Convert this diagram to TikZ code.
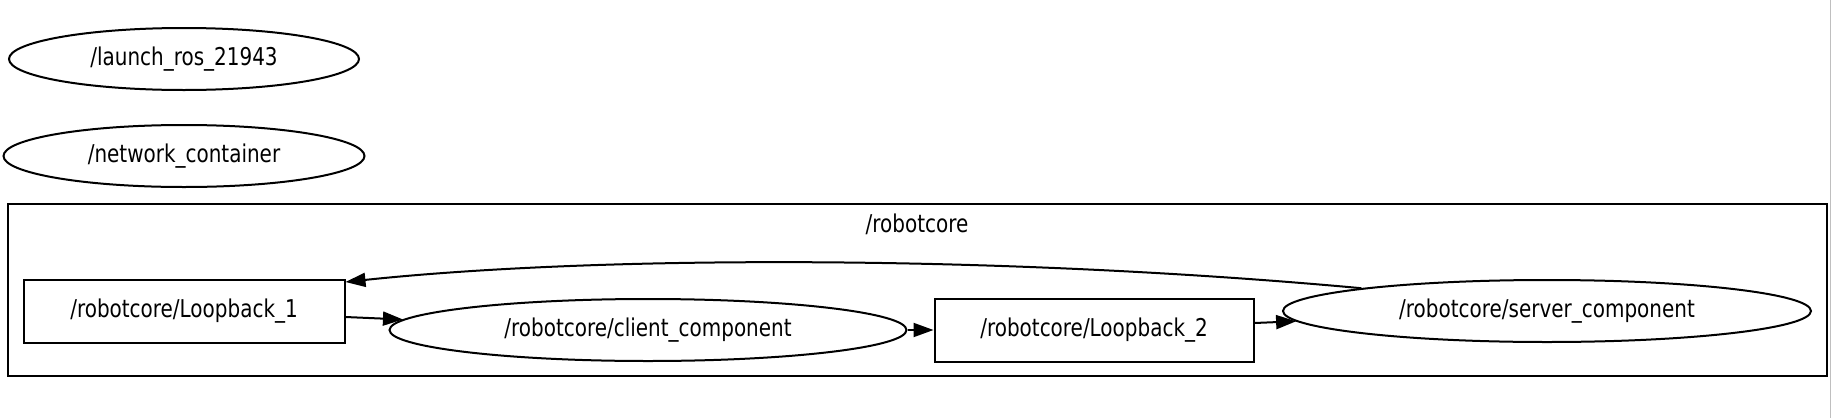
\documentclass[tikz,border=0pt]{standalone}
\usepackage{fontspec}
\setmainfont{DejaVu Sans}[FakeStretch=0.815]
\usetikzlibrary{shapes.geometric,arrows.meta}
\begin{document}
\begin{tikzpicture}[x=1pt,y=-1pt,
  every node/.style={font=\fontsize{24.5}{28}\selectfont, line width=2pt, inner sep=0pt},
  oval/.style={draw, ellipse, minimum height=62pt},
  boxnode/.style={draw, rectangle, minimum height=63pt},
  edge/.style={line width=2pt, -{Triangle[length=20pt,width=14pt]}}]
\useasboundingbox (0,0) rectangle (1832,418);
\draw[gray!50, line width=1pt] (1830,0) -- (1830,418);
\draw[line width=1.8pt] (8,204) rectangle (1827,376);
\node (cl) at (917,224) {/robotcore};
\node[oval, minimum width=350pt] (launch) at (184,59) {/launch\_ros\_21943};
\node[oval, minimum width=361pt] (net) at (184,156) {/network\_container};
\node[boxnode, minimum width=321pt] (lb1) at (184,311) {/robotcore/Loopback\_1};
\node[oval, minimum width=517pt] (client) at (648,330) {/robotcore/client\_component};
\node[boxnode, minimum width=319pt] (lb2) at (1094,330) {/robotcore/Loopback\_2};
\node[oval, minimum width=528pt] (server) at (1547,311) {/robotcore/server\_component};
\draw[edge] (lb1.east |- 0,317) -- (client);
\draw[edge] (client.east) -- (lb2.west);
\draw[edge] (lb2.east |- 0,323) -- (server);
\draw[edge] (server.173) .. controls (1000,255) and (600,255) .. (lb1.north east |- 0,282);
\end{tikzpicture}
\end{document}
